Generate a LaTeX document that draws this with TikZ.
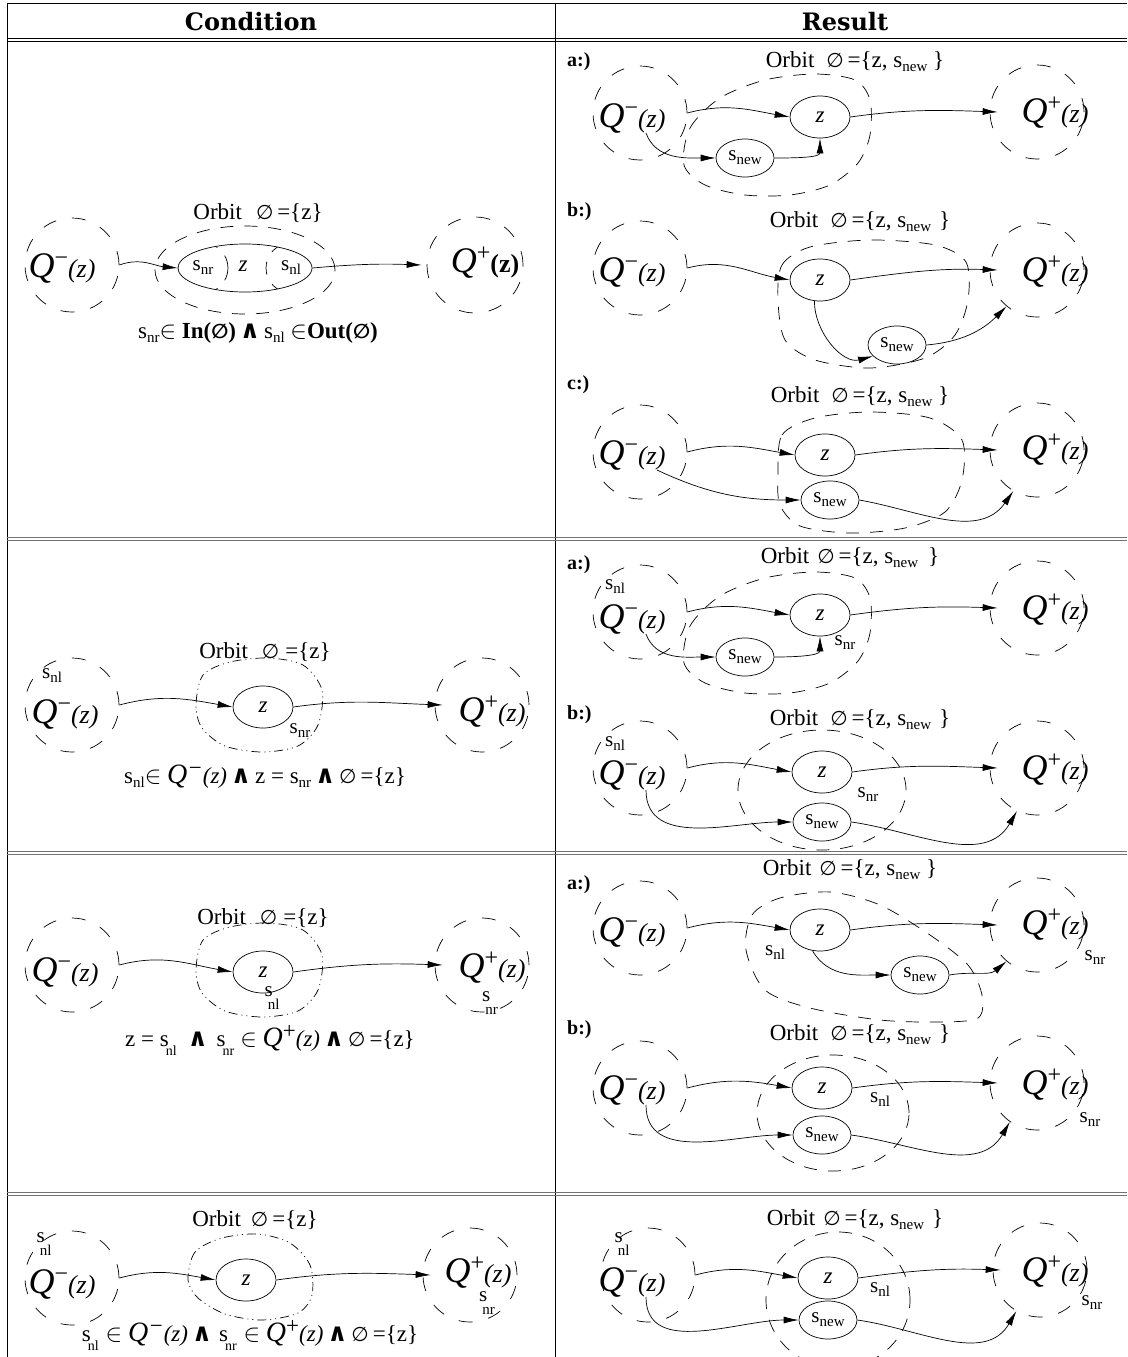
\documentclass[tikz,border=0pt]{standalone}
\usepackage{fontspec}
\setmainfont{Liberation Serif}
\newfontfamily\djv{DejaVu Sans}
\newfontfamily\hdr{DejaVu Serif}
\usetikzlibrary{shapes.geometric,arrows.meta}
\newcommand\orbsym{{\djv\fontsize{20}{20}\selectfont ∅}}
\newcommand\qminus{{\fontsize{36}{36}\selectfont\itshape Q}\raisebox{12pt}{\fontsize{24}{24}\selectfont −}{\fontsize{26}{26}\selectfont\itshape (z)}}
\newcommand\qplus{{\fontsize{36}{36}\selectfont\itshape Q}\raisebox{12pt}{\fontsize{24}{24}\selectfont +}{\fontsize{26}{26}\selectfont\itshape (z)}}
\newcommand\qplusb{{\fontsize{36}{36}\selectfont\itshape Q}\raisebox{12pt}{\fontsize{24}{24}\selectfont +}{\fontsize{26}{26}\selectfont\bfseries (z)}}
\newcommand\ssub[1]{s\raisebox{-4pt}{\fontsize{15}{15}\selectfont #1}}
\newcommand\sstack[1]{s\kern-5pt\raisebox{-13pt}{\fontsize{15}{15}\selectfont #1}}
\newcommand\sstackf[1]{s\kern-3pt\raisebox{-9pt}{\fontsize{14}{14}\selectfont #1}}
\newcommand\andsym{\,{\djv\bfseries\fontsize{25}{25}\selectfont ∧}\,}
\begin{document}
\begin{tikzpicture}[x=1pt,y=1pt,
  qc/.style={draw, dash pattern=on 14pt off 16pt, line width=0.7pt, circle, minimum size=94pt, inner sep=0pt},
  orbline/.style={draw, dash pattern=on 13pt off 11pt, line width=0.7pt},
  dotl/.style={draw, dash pattern=on 1pt off 4pt on 1pt off 4pt on 9pt off 4pt, line width=0.7pt},
  stt/.style={draw, ellipse, line width=0.7pt, minimum width=60pt, minimum height=42pt, inner sep=0pt, font=\fontsize{23}{23}\selectfont\itshape},
  sst/.style={draw, ellipse, line width=0.7pt, minimum width=58pt, minimum height=38pt, inner sep=0pt, font=\fontsize{21}{21}\selectfont},
  arr/.style={-{Latex[length=15pt,width=7pt]}, line width=0.7pt},
  txt/.style={font=\fontsize{23}{26}\selectfont, inner sep=0pt},
  lab/.style={font=\fontsize{21}{21}\selectfont, inner sep=0pt},
  qt/.style={inner sep=0pt},
  sub/.style={font=\bfseries\fontsize{20}{20}\selectfont, inner sep=0pt, anchor=west},
  tbl/.style={line width=1pt},
  rowl/.style={line width=0.9pt, black!55}
]
\useasboundingbox (0,0) rectangle (1127,-1357);
\fill[white] (0,0) rectangle (1127,-1357);

% ---------- table ----------
\draw[tbl] (7,-3) -- (1127,-3);
\draw[tbl] (7,-3) -- (7,-1357);
\draw[tbl] (555,-3) -- (555,-1357);
\draw[tbl] (7,-38) -- (1127,-38);
\draw[tbl] (7,-41.5) -- (1127,-41.5);
\foreach \yy in {537,851,1192}{
  \draw[rowl] (7,-\yy) -- (1127,-\yy);
  \draw[rowl] (7,-\yy-3) -- (1127,-\yy-3);
}
\node[font=\hdr\bfseries\fontsize{24}{24}\selectfont] (hc) at (251,-22) {Condition};
\node[font=\hdr\bfseries\fontsize{24}{24}\selectfont] (hr) at (845,-22) {Result};

% ================= ROW 1 LEFT =================
\node[txt] (o1) at (258,-213) {Orbit\hspace{14pt}\orbsym\,=\{z\}};
\node[qc] (c1m) at (72,-265) {};
\node[qt] (t1m) at (62,-268) {\qminus};
\draw[orbline] (245,-270) ellipse [x radius=90, y radius=44];
\node[stt, minimum width=134pt, minimum height=48pt] (e1) at (245,-268) {};
\node[lab] (e1r) at (203,-268) {\ssub{nr}};
\node[lab, font=\fontsize{23}{23}\selectfont\itshape] (e1z) at (243,-266) {z};
\node[lab] (e1l) at (291,-268) {\ssub{nl}};
\begin{scope}
  \clip (245,-268) ellipse [x radius=67, y radius=24];
  \draw[orbline] (203,-268) circle [radius=25];
  \draw[orbline] (291,-268) circle [radius=25];
\end{scope}
\node[qc, minimum size=96pt] (c1p) at (475,-265) {};
\node[qt] (t1p) at (485,-263) {\qplusb};
\draw[arr] (c1m.east) to[out=20,in=175] (e1.west);
\draw[arr] (e1.east) to[out=5,in=178] ([xshift=-5pt]c1p.west);
\node[txt] (f1) at (258,-333) {\ssub{nr}$\in$ \textbf{In(\orbsym)}\andsym\ssub{nl} $\in$\textbf{Out(\orbsym)}};

% ================= ROW 1 RIGHT a =================
\node[sub] (la1) at (567,-62) {a:)};
\node[txt] (oa1) at (855,-62) {Orbit\hspace{12pt}\orbsym\,=\{z, \ssub{new} \}};
\node[qc] (a1m) at (640,-113) {};
\node[qt] (a1mt) at (632,-118) {\qminus};
\node[stt] (a1z) at (820,-117) {z};
\node[sst] (a1s) at (745,-158) {\ssub{new}};
\node[qc] (a1p) at (1037,-112) {};
\node[qt] (a1pt) at (1055,-113) {\qplus};
\draw[orbline] plot[smooth cycle] coordinates {(684,-165) (690,-128) (720,-98) (765,-80) (815,-74) (855,-80) (870,-100) (870,-135) (858,-163) (830,-185) (790,-195) (745,-195) (705,-185)};
\draw[arr] (a1m.east) to[out=15,in=170] (a1z.west);
\draw[arr] ([xshift=14pt]a1mt.south) to[out=-70,in=180] (a1s.west);
\draw[arr] (a1s.east) to[out=0,in=-90] (a1z.south);
\draw[arr] (a1z.east) to[out=8,in=178] ([xshift=8pt]a1p.west);

% ================= ROW 1 RIGHT b =================
\node[sub] (lb1) at (567,-212) {b:)};
\node[txt] (ob1) at (860,-222) {Orbit\hspace{12pt}\orbsym\,=\{z, \ssub{new}\hspace{8pt}\}};
\node[qc] (b1m) at (640,-268) {};
\node[qt] (b1mt) at (632,-272) {\qminus};
\node[stt] (b1z) at (820,-280) {z};
\node[sst] (b1s) at (897,-345) {\ssub{new}};
\node[qc] (b1p) at (1037,-270) {};
\node[qt] (b1pt) at (1055,-272) {\qplus};
\draw[orbline] plot[smooth cycle] coordinates {(778,-300) (782,-265) (810,-247) (870,-240) (935,-245) (966,-262) (968,-300) (955,-335) (925,-358) (870,-368) (815,-360) (785,-340)};
\draw[arr] (b1m.east) to[out=15,in=170] (b1z.west);
\draw[arr] (b1z.east) to[out=8,in=178] ([xshift=8pt]b1p.west);
\draw[arr] (b1z.-105) to[out=-90,in=195] (b1s.205);
\draw[arr] (b1s.east) to[out=5,in=-135] (b1p.-130);

% ================= ROW 1 RIGHT c =================
\node[sub] (lc1) at (567,-385) {c:)};
\node[txt] (oc1) at (860,-397) {Orbit\hspace{12pt}\orbsym\,=\{z, \ssub{new} \}};
\node[qc] (c1qm) at (640,-452) {};
\node[qt] (c1qmt) at (632,-455) {\qminus};
\node[stt] (c1z) at (825,-455) {z};
\node[sst] (c1s) at (830,-500) {\ssub{new}};
\node[qc] (c1qp) at (1037,-450) {};
\node[qt] (c1qpt) at (1055,-450) {\qplus};
\draw[orbline] plot[smooth cycle] coordinates {(778,-475) (782,-435) (815,-418) (870,-412) (930,-418) (962,-440) (962,-480) (945,-512) (905,-528) (850,-533) (800,-526) (780,-505)};
\draw[arr] (c1qm.east) to[out=15,in=170] (c1z.west);
\draw[arr] (c1z.east) to[out=8,in=178] ([xshift=8pt]c1qp.west);
\draw[arr] ([xshift=25pt]c1qmt.south) to[out=-25,in=180] (c1s.west);
\draw[arr] (c1s.east) to[out=-10,in=-125] (c1qp.-120);

% ================= ROW 2 LEFT =================
\node[txt] (o2) at (265,-652) {Orbit\hspace{14pt}\orbsym\hspace{6pt}=\{z\}};
\node[lab] (l2nl) at (52,-676) {\ssub{nl}};
\node[qc] (c2m) at (72,-705) {};
\node[qt] (t2m) at (65,-714) {\qminus};
\node[stt] (z2) at (263,-707) {z};
\draw[dotl] plot[smooth cycle] coordinates {(196,-705) (203,-675) (230,-662) (268,-658) (303,-665) (322,-690) (318,-725) (298,-746) (262,-752) (225,-746) (202,-728)};
\node[lab] (l2nr) at (300,-731) {\ssub{nr}};
\node[qc] (c2p) at (482,-705) {};
\node[qt] (t2p) at (492,-712) {\qplus};
\draw[arr] (c2m.east) to[out=15,in=170] (z2.west);
\draw[arr] (z2.east) to[out=8,in=178] ([xshift=8pt]c2p.west);
\node[txt] (f2) at (265,-777) {\ssub{nl}$\in$ \textit{{\fontsize{28}{28}\selectfont Q}\raisebox{8pt}{−}(z)}\andsym z = \ssub{nr}\andsym\orbsym\hspace{4pt}=\{z\}};

% ================= ROW 2 RIGHT a =================
\node[sub] (la2) at (567,-565) {a:)};
\node[txt] (oa2) at (850,-558) {Orbit\hspace{8pt}\orbsym\,=\{z, \ssub{new}\hspace{10pt}\}};
\node[lab] (a2nl) at (615,-587) {\ssub{nl}};
\node[qc] (a2m) at (640,-612) {};
\node[qt] (a2mt) at (632,-619) {\qminus};
\node[stt] (a2z) at (820,-615) {z};
\node[lab] (a2nr) at (845,-643) {\ssub{nr}};
\node[sst] (a2s) at (745,-657) {\ssub{new}};
\node[qc] (a2p) at (1037,-608) {};
\node[qt] (a2pt) at (1055,-610) {\qplus};
\draw[orbline] plot[smooth cycle] coordinates {(684,-663) (690,-626) (720,-596) (765,-578) (815,-572) (855,-578) (870,-598) (870,-633) (858,-661) (830,-683) (790,-693) (745,-693) (705,-683)};
\draw[arr] (a2m.east) to[out=15,in=170] (a2z.west);
\draw[arr] ([xshift=14pt]a2mt.south) to[out=-70,in=180] (a2s.west);
\draw[arr] (a2s.east) to[out=0,in=-90] (a2z.south);
\draw[arr] (a2z.east) to[out=8,in=178] ([xshift=8pt]a2p.west);

% ================= ROW 2 RIGHT b =================
\node[sub] (lb2) at (567,-715) {b:)};
\node[txt] (ob2) at (860,-720) {Orbit\hspace{12pt}\orbsym\,=\{z, \ssub{new}\hspace{8pt}\}};
\node[lab] (b2nl) at (615,-744) {\ssub{nl}};
\node[qc] (b2m) at (640,-768) {};
\node[qt] (b2mt) at (632,-775) {\qminus};
\node[stt] (b2z) at (822,-772) {z};
\node[lab] (b2nr) at (868,-795) {\ssub{nr}};
\node[sst] (b2s) at (822,-822) {\ssub{new}};
\node[qc] (b2p) at (1037,-768) {};
\node[qt] (b2pt) at (1055,-770) {\qplus};
\draw[orbline] (822,-790) ellipse [x radius=84, y radius=60];
\draw[arr] (b2m.east) to[out=15,in=170] (b2z.west);
\draw[arr] (b2z.east) to[out=8,in=178] ([xshift=8pt]b2p.west);
\draw[arr] ([xshift=14pt]b2mt.south) to[out=-90,in=180] (b2s.west);
\draw[arr] (b2s.east) to[out=-8,in=-120] (b2p.-115);

% ================= ROW 3 LEFT =================
\node[txt] (o3) at (263,-918) {Orbit\hspace{14pt}\orbsym\hspace{6pt}=\{z\}};
\node[qc] (c3m) at (72,-965) {};
\node[qt] (t3m) at (65,-972) {\qminus};
\node[stt] (z3) at (263,-972) {z};
\draw[dotl] plot[smooth cycle] coordinates {(196,-970) (203,-940) (230,-927) (268,-923) (303,-930) (322,-955) (318,-990) (298,-1011) (262,-1017) (225,-1011) (202,-993)};
\node[lab] (l3nl) at (272,-998) {\sstack{nl}};
\node[qc] (c3p) at (482,-965) {};
\node[qt] (t3p) at (492,-968) {\qplus};
\node[lab] (l3nr) at (490,-1003) {\sstack{nr}};
\draw[arr] (c3m.east) to[out=15,in=170] (z3.west);
\draw[arr] (z3.east) to[out=8,in=178] ([xshift=8pt]c3p.west);
\node[txt] (f3) at (270,-1040) {z = \sstackf{nl}\hspace{7pt}\andsym\hspace{5pt}\sstackf{nr}\hspace{6pt}$\in$ \textit{{\fontsize{28}{28}\selectfont Q}\raisebox{8pt}{\upshape +}(z)}\andsym\orbsym\hspace{4pt}=\{z\}};

% ================= ROW 3 RIGHT a =================
\node[sub] (la3) at (567,-885) {a:)};
\node[txt] (oa3) at (850,-870) {Orbit\hspace{8pt}\orbsym\,=\{z, \ssub{new} \}};
\node[qc] (a3m) at (640,-928) {};
\node[qt] (a3mt) at (632,-932) {\qminus};
\node[stt] (a3z) at (820,-930) {z};
\node[lab] (a3nl) at (775,-953) {\ssub{nl}};
\node[sst] (a3s) at (920,-975) {\ssub{new}};
\node[qc] (a3p) at (1037,-925) {};
\node[qt] (a3pt) at (1055,-925) {\qplus};
\node[lab] (a3nr) at (1095,-958) {\ssub{nr}};
\draw[orbline] plot[smooth cycle] coordinates {(746,-950) (752,-915) (780,-898) (830,-892) (880,-905) (930,-935) (968,-965) (982,-995) (978,-1018) (940,-1022) (880,-1020) (810,-1008) (765,-990)};
\draw[arr] (a3m.east) to[out=15,in=170] (a3z.west);
\draw[arr] (a3z.east) to[out=8,in=178] ([xshift=8pt]a3p.west);
\draw[arr] (a3z.-110) to[out=-60,in=180] (a3s.west);
\draw[arr] (a3s.east) to[out=10,in=-140] (a3p.-130);

% ================= ROW 3 RIGHT b =================
\node[sub] (lb3) at (567,-1030) {b:)};
\node[txt] (ob3) at (860,-1035) {Orbit\hspace{12pt}\orbsym\,=\{z, \ssub{new}\hspace{8pt}\}};
\node[qc] (b3m) at (640,-1088) {};
\node[qt] (b3mt) at (632,-1090) {\qminus};
\node[stt] (b3z) at (822,-1088) {z};
\node[lab] (b3nl) at (880,-1100) {\ssub{nl}};
\node[sst] (b3s) at (822,-1135) {\ssub{new}};
\node[qc] (b3p) at (1037,-1083) {};
\node[qt] (b3pt) at (1055,-1085) {\qplus};
\node[lab] (b3nr) at (1090,-1120) {\ssub{nr}};
\draw[orbline] (833,-1113) ellipse [x radius=76, y radius=58];
\draw[arr] (b3m.east) to[out=15,in=170] (b3z.west);
\draw[arr] (b3z.east) to[out=8,in=178] ([xshift=8pt]b3p.west);
\draw[arr] ([xshift=14pt]b3mt.south) to[out=-90,in=180] (b3s.west);
\draw[arr] (b3s.east) to[out=-8,in=-120] (b3p.-125);

% ================= ROW 4 LEFT =================
\node[txt] (o4) at (255,-1220) {Orbit\hspace{10pt}\orbsym\hspace{4pt}=\{z\}};
\node[lab] (l4nl) at (44,-1244) {\sstack{nl}};
\node[qc] (c4m) at (72,-1278) {};
\node[qt] (t4m) at (62,-1284) {\qminus};
\node[stt] (z4) at (246,-1280) {z};
\draw[dotl] plot[smooth cycle] coordinates {(188,-1280) (195,-1252) (222,-1238) (258,-1234) (290,-1243) (310,-1265) (312,-1295) (298,-1313) (262,-1320) (225,-1314) (198,-1298)};
\node[qc] (c4p) at (470,-1275) {};
\node[qt] (t4p) at (478,-1273) {\qplus};
\node[lab] (l4nr) at (487,-1303) {\sstack{nr}};
\draw[arr] (c4m.east) to[out=15,in=170] (z4.west);
\draw[arr] (z4.east) to[out=8,in=178] ([xshift=8pt]c4p.west);
\node[txt] (f4) at (250,-1335) {\sstackf{nl}\hspace{7pt}$\in$ \textit{{\fontsize{28}{28}\selectfont Q}\raisebox{8pt}{−}(z)}\andsym\hspace{3pt}\sstackf{nr}\hspace{7pt}$\in$ \textit{{\fontsize{28}{28}\selectfont Q}\raisebox{8pt}{\upshape +}(z)}\andsym\orbsym\hspace{4pt}=\{z\}};

% ================= ROW 4 RIGHT =================
\node[txt] (o4r) at (855,-1220) {Orbit\hspace{8pt}\orbsym\,=\{z, \ssub{new}\hspace{8pt}\}};
\node[lab] (r4nl) at (622,-1244) {\sstack{nl}};
\node[qc] (r4m) at (648,-1275) {};
\node[qt] (r4mt) at (632,-1282) {\qminus};
\node[stt] (r4z) at (828,-1278) {z};
\node[lab] (r4nl2) at (880,-1290) {\ssub{nl}};
\node[sst] (r4s) at (828,-1320) {\ssub{new}};
\node[qc] (r4p) at (1040,-1270) {};
\node[qt] (r4pt) at (1055,-1272) {\qplus};
\node[lab] (r4nr) at (1092,-1303) {\ssub{nr}};
\draw[orbline] (838,-1300) ellipse [x radius=72, y radius=68];
\draw[arr] (r4m.east) to[out=15,in=170] (r4z.west);
\draw[arr] (r4z.east) to[out=8,in=178] ([xshift=8pt]r4p.west);
\draw[arr] ([xshift=14pt]r4mt.south) to[out=-90,in=180] (r4s.west);
\draw[arr] (r4s.east) to[out=-8,in=-120] (r4p.-120);
\end{tikzpicture}
\end{document}
